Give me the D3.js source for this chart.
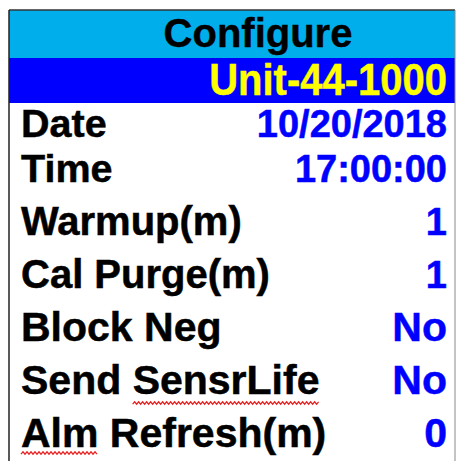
<!DOCTYPE html>
<html>
<head>
<meta charset="utf-8">
<script src="https://cdn.jsdelivr.net/npm/d3@7"></script>
<style>
  body { margin: 0; background: #fff; }
  text { font-family: "Liberation Sans", Arial, sans-serif; font-weight: bold; }
</style>
</head>
<body>
<div id="panel"></div>
<script>
// Screen contents
const TITLE = "Configure";
const UNIT = "Unit-44-1000";
const LABELS = ["Date", "Time", "Warmup(m)", "Cal Purge(m)", "Block Neg", "Send SensrLife", "Alm Refresh(m)"];
const VALUES = ["10/20/2018", "17:00:00", "1", "1", "No", "No", "0"];

// Frame dimensions
const FRAME_WIDTH = 457;
const FRAME_HEIGHT = 461;
const BOX = {left: 9, right: 455, top: 10};
const TITLE_H = 48;
const UNIT_H = 45;

// Excel-like rows: first two are shorter
const rowHeights = LABELS.map((d, i) => i < 2 ? 45 : 53);
const labelFont = LABELS.map((d, i) => i < 2 ? 39.5 : (i < 4 ? 40 : 41));
const valueFont = LABELS.map((d, i) => i < 4 ? 38 : 41);

const FRAME = d3.select("#panel")
  .append("svg")
    .attr("width", FRAME_WIDTH)
    .attr("height", FRAME_HEIGHT);

// Title band
FRAME.append("rect")
  .attr("x", BOX.left).attr("y", BOX.top)
  .attr("width", BOX.right - BOX.left).attr("height", TITLE_H)
  .attr("fill", "#00AEEB");

FRAME.append("text")
  .attr("x", 258).attr("y", BOX.top + 37)
  .attr("text-anchor", "middle")
  .attr("font-size", 40)
  .attr("fill", "#000")
  .attr("stroke", "#000").attr("stroke-width", 0.4)
  .text(TITLE);

// Unit band
const unitTop = BOX.top + TITLE_H;
FRAME.append("rect")
  .attr("x", BOX.left).attr("y", unitTop)
  .attr("width", BOX.right - BOX.left).attr("height", UNIT_H)
  .attr("fill", "#0000FF");

FRAME.append("text")
  .attr("transform", "translate(447," + (unitTop + 37) + ") scale(1,1.12)")
  .attr("text-anchor", "end")
  .attr("font-size", 40)
  .attr("fill", "#FFFF00")
  .attr("stroke", "#FFFF00").attr("stroke-width", 0.4)
  .text(UNIT);

// Row baselines from cumulative heights
let rowTop = unitTop + UNIT_H;
const baselines = rowHeights.map((h) => {
  const b = rowTop + h - 11;
  rowTop += h;
  return b;
});
const Y_SCALE = d3.scaleOrdinal().domain(LABELS).range(baselines);

const rows = FRAME.selectAll("g.row")
  .data(LABELS)
  .enter()
  .append("g")
    .attr("class", "row");

rows.append("text")
  .attr("x", 21)
  .attr("y", (d) => Y_SCALE(d))
  .attr("font-size", (d, i) => labelFont[i])
  .attr("fill", "#000")
  .attr("stroke", "#000").attr("stroke-width", 0.5)
  .text((d) => d);

rows.append("text")
  .attr("x", 447)
  .attr("y", (d) => Y_SCALE(d))
  .attr("text-anchor", "end")
  .attr("font-size", (d, i) => valueFont[i])
  .attr("fill", "#0000FF")
  .attr("stroke", "#0000FF").attr("stroke-width", 0.5)
  .text((d, i) => VALUES[i]);

// Spell-check squiggles under "SensrLife" and "Alm"
function squiggle(x0, x1, y) {
  const pts = [];
  for (let x = x0, k = 0; x <= x1; x += 2, k++) {
    pts.push([x, y + (k % 2 ? -1.2 : 1.2)]);
  }
  return d3.line()(pts);
}

const sendNode = rows.filter((d) => d === "Send SensrLife").select("text").node();
const almNode = rows.filter((d) => d === "Alm Refresh(m)").select("text").node();

function underlineWord(node, start, len, dy) {
  const s = node.getStartPositionOfChar(start);
  const e = node.getEndPositionOfChar(start + len - 1);
  FRAME.append("path")
    .attr("d", squiggle(s.x, e.x, s.y + dy))
    .attr("fill", "none")
    .attr("stroke", "#E82020")
    .attr("stroke-width", 1.2);
}
underlineWord(sendNode, 5, 9, 9);
underlineWord(almNode, 0, 3, 6);

// Outer border
FRAME.append("line")
  .attr("x1", BOX.left).attr("x2", BOX.right)
  .attr("y1", BOX.top).attr("y2", BOX.top)
  .attr("stroke", "#333").attr("stroke-width", 1.5);
FRAME.append("line")
  .attr("x1", BOX.left).attr("x2", BOX.left)
  .attr("y1", BOX.top).attr("y2", FRAME_HEIGHT)
  .attr("stroke", "#222").attr("stroke-width", 1.5);
FRAME.append("line")
  .attr("x1", BOX.right).attr("x2", BOX.right)
  .attr("y1", BOX.top).attr("y2", FRAME_HEIGHT)
  .attr("stroke", "#888").attr("stroke-width", 1);
</script>
</body>
</html>
